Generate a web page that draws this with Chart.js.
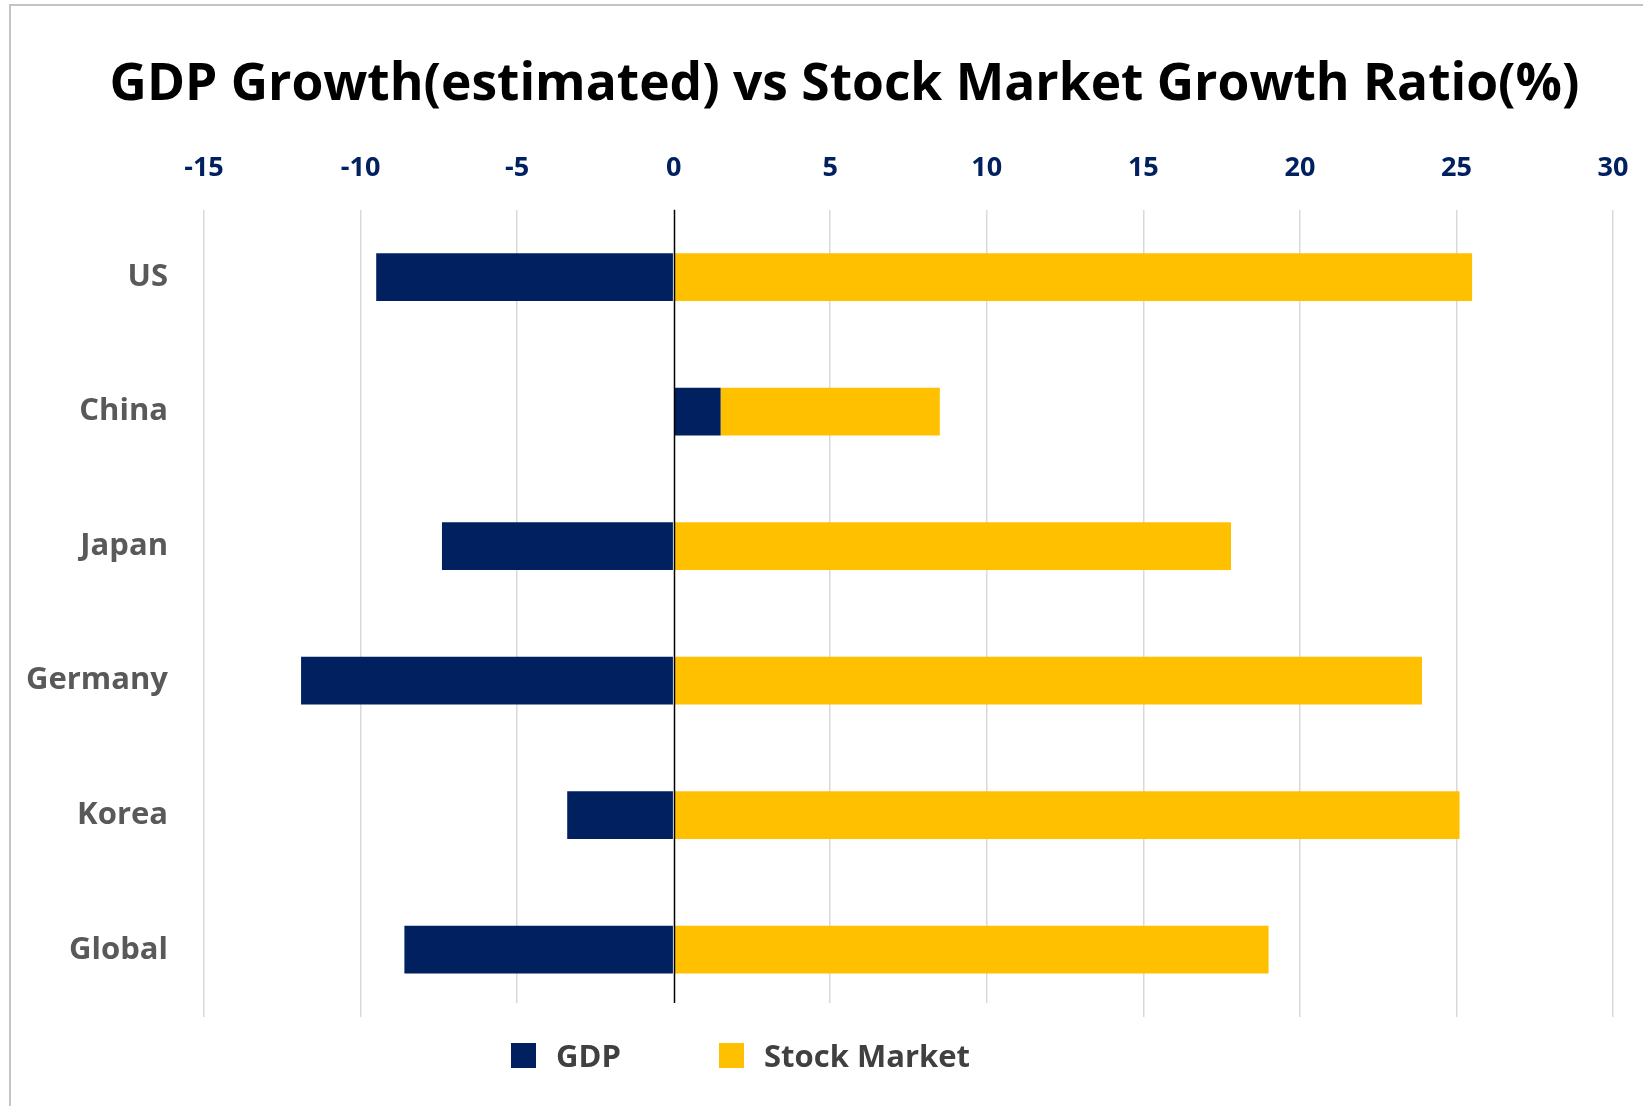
<!DOCTYPE html>
<html>
<head>
<meta charset="utf-8">
<title>GDP Growth vs Stock Market Growth</title>
<script src="https://cdn.jsdelivr.net/npm/chart.js@4.4.1/dist/chart.umd.min.js"></script>
<style>
    html, body { margin: 0; padding: 0; background: #ffffff; overflow: hidden; }
    #wrap { position: relative; width: 1643px; height: 1106px; }
    #frame {
        position: absolute; left: 9px; top: 4px; right: -10px; bottom: -10px;
        border-left: 2px solid #c4c4c4; border-top: 2px solid #c4c4c4;
        pointer-events: none;
    }
    #legend {
        position: absolute; left: 511px; top: 1034px;
        display: flex; align-items: center;
        font: bold 31px "Open Sans", sans-serif; color: #404040;
    }
    .legend-item { display: flex; align-items: center; }
    .legend-item:first-child { width: 208px; }
    .legend-box { width: 25px; height: 25px; margin-right: 20px; }
</style>
</head>
<body>
<div id="wrap">
    <canvas id="growthChart" width="1643" height="1106"></canvas>
    <div id="legend"></div>
    <div id="frame"></div>
</div>
<script>
//CHART DATA
////////////////////////////////////////////////////////////////////
var countries = ["US", "China", "Japan", "Germany", "Korea", "Global"];
var gdpGrowth = [-9.5, 1.5, -7.4, -11.9, -3.4, -8.6];
// stock bars stack on top of the GDP bar when GDP is positive (China)
var stockGrowth = [25.5, 7.0, 17.8, 23.9, 25.1, 19.0];
var seriesNames = ["GDP", "Stock Market"];
var xTickValues = [-15, -10, -5, 0, 5, 10, 15, 20, 25, 30];

Chart.defaults.font.family = "'Open Sans', sans-serif";

//PLUGINS
////////////////////////////////////////////////////////////////////

//black axis line at zero, drawn over the bars, and a white backing under the legend
var zeroLinePlugin = {
    id: 'zeroLine',
    afterLayout: function (chart) {
        //nudge the title right so it sits over the whole frame
        chart.titleBlock.left += 38;
        chart.titleBlock.right += 38;
    },
    beforeDatasetsDraw: function (chart) {
        var box = document.getElementById("legend").getBoundingClientRect();
        var area = chart.chartArea;
        var ctx = chart.ctx;
        ctx.save();
        ctx.fillStyle = "#ffffff";
        ctx.fillRect(box.left - 30, area.bottom - 14, box.width + 60, 16);
        ctx.restore();
    },
    afterDatasetsDraw: function (chart) {
        var area = chart.chartArea;
        var x = Math.round(chart.scales.x.getPixelForValue(0)) + 0.5;
        var ctx = chart.ctx;
        ctx.save();
        ctx.strokeStyle = "#000000";
        ctx.lineWidth = 1.5;
        ctx.beginPath();
        ctx.moveTo(x, area.top);
        ctx.lineTo(x, area.bottom - 14);
        ctx.stroke();
        ctx.restore();
    }
};

//CHART CONFIG
////////////////////////////////////////////////////////////////////
var config = {
    type: 'bar',
    data: {
        labels: countries,
        datasets: [{
            label: seriesNames[0],
            data: gdpGrowth,
            backgroundColor: "#002060"
        }, {
            label: seriesNames[1],
            data: stockGrowth,
            backgroundColor: "#FFC000"
        }]
    },
    options: {
        indexAxis: 'y',
        responsive: false,
        animation: false,
        datasets: {
            bar: {
                categoryPercentage: 1,
                barPercentage: 0.355
            }
        },
        layout: {
            padding: { left: 0, right: 30, top: 0, bottom: 89 }
        },
        plugins: {
            legend: { display: false },
            tooltip: { enabled: false },
            title: {
                display: true,
                text: "GDP Growth(estimated) vs Stock Market Growth Ratio(%)",
                color: "#000000",
                font: { size: 51.5, weight: 'bold' },
                padding: { top: 54, bottom: 14 }
            }
        },
        scales: {
            x: {
                position: 'top',
                stacked: true,
                min: -15,
                max: 30,
                afterBuildTicks: function (scale) {
                    scale.ticks = xTickValues.map(function (v) {
                        return { value: v };
                    });
                },
                afterFit: function (scale) {
                    scale.height = 80;
                    // let the end labels hang over the padding
                    scale.paddingLeft = 0;
                    scale.paddingRight = 0;
                },
                grid: {
                    //zero line is drawn by the plugin
                    color: function (ctx) {
                        return ctx.tick && ctx.tick.value === 0 ? "rgba(0,0,0,0)" : "#d9d9d9";
                    },
                    lineWidth: 1.5,
                    drawTicks: false
                },
                border: { display: false },
                ticks: {
                    color: "#002060",
                    font: { size: 27, weight: 'bold' },
                    padding: 25
                }
            },
            y: {
                stacked: true,
                afterFit: function (scale) {
                    scale.width = 204;
                },
                grid: { display: false },
                border: { display: false },
                ticks: {
                    color: "#595959",
                    font: { size: 31, weight: 'bold' },
                    padding: 28
                }
            }
        }
    },
    plugins: [zeroLinePlugin]
};

//legend built from the dataset labels and colours
function buildLegend(datasets) {
    var legend = document.getElementById("legend");
    for (var i = 0; i < datasets.length; i++) {
        var item = document.createElement("div");
        item.className = "legend-item";
        var box = document.createElement("span");
        box.className = "legend-box";
        box.style.background = datasets[i].backgroundColor;
        var text = document.createElement("span");
        text.textContent = datasets[i].label;
        item.appendChild(box);
        item.appendChild(text);
        legend.appendChild(item);
    }
}

buildLegend(config.data.datasets);
var chart = new Chart(document.getElementById("growthChart"), config);
</script>
</body>
</html>
